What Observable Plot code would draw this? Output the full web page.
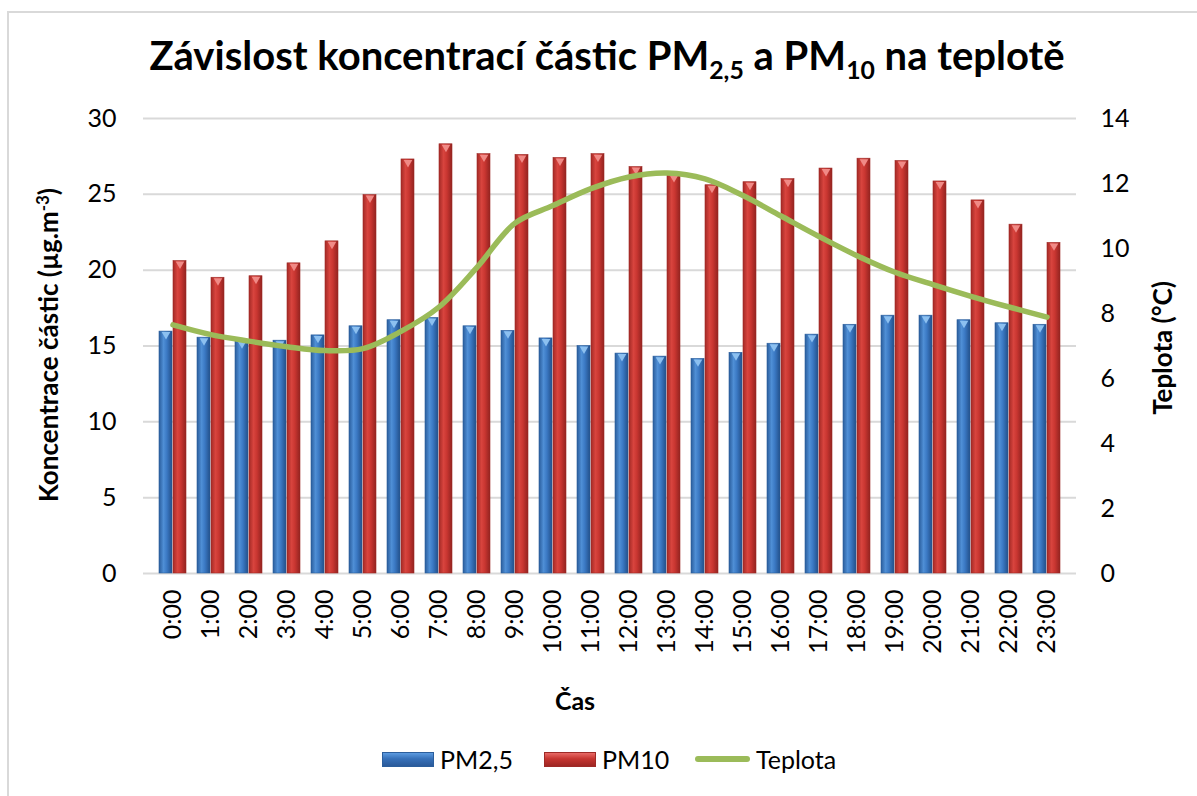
<!DOCTYPE html>
<html>
<head>
<meta charset="utf-8">
<script src="https://cdn.jsdelivr.net/npm/d3@7"></script>
<script src="https://cdn.jsdelivr.net/npm/@observablehq/plot@0.6"></script>
<style>
  html, body { margin: 0; padding: 0; background: #fff; }
  #wrap { position: relative; width: 1197px; height: 796px; overflow: hidden; font-family: Lato, "Open Sans", sans-serif; color: #000; }
  #frame { position: absolute; left: 7px; top: 11px; width: 1300px; height: 900px; border-left: 2px solid #d9d9d9; border-top: 2px solid #d9d9d9; }
  #chart { position: absolute; left: 0; top: 0; }
  .abs { position: absolute; white-space: nowrap; }
  #title { left: 0; width: 1214px; top: 31px; text-align: center; font-weight: 700; font-size: 40px; }
  #title sub { font-size: 0.62em; vertical-align: -0.35em; line-height: 0; }
  .ytitle { font-weight: 700; font-size: 26px; transform: translate(-50%, -50%) rotate(-90deg); }
  #xtitle { font-weight: 700; font-size: 25px; transform: translate(-50%, -50%); left: 575px; top: 700px; }
  .leg { top: 744px; font-size: 25px; display: flex; align-items: center; }
  .sw { display: inline-block; width: 50px; height: 13px; margin-right: 6px; }
</style>
</head>
<body>
<div id="wrap">
  <div id="frame"></div>
  <div id="chart"></div>
  <div id="title" class="abs">Závislost koncentrací částic PM<sub>2,5</sub> a PM<sub>10</sub> na teplotě</div>
  <div class="abs ytitle" style="left:48px; top:345px;">Koncentrace částic (µg.m<sup style="font-size:0.65em">-3</sup>)</div>
  <div class="abs ytitle" style="left:1162px; top:348px;">Teplota (°C)</div>
  <div id="xtitle" class="abs">Čas</div>
  <div class="abs leg" style="left:382px;"><span class="sw" style="background:linear-gradient(#5d9be0,#3670b8 45%,#2a5a9a);border:1px solid #2b5e9c;"></span>PM2,5</div>
  <div class="abs leg" style="left:544px;"><span class="sw" style="background:linear-gradient(#e86a66,#c53530 45%,#9e2623);border:1px solid #9e2a27;"></span>PM10</div>
  <div class="abs leg" style="left:695px;"><span class="sw" style="width:55px;height:6px;border-radius:3px;background:#9bbb59;"></span>Teplota</div>
</div>
<script>
const hours = ["0:00","1:00","2:00","3:00","4:00","5:00","6:00","7:00","8:00","9:00","10:00","11:00","12:00","13:00","14:00","15:00","16:00","17:00","18:00","19:00","20:00","21:00","22:00","23:00"];
const pm25 = [15.95,15.55,15.35,15.35,15.7,16.3,16.7,16.85,16.3,16.0,15.5,15.0,14.5,14.3,14.15,14.55,15.15,15.75,16.4,17.0,17.0,16.7,16.5,16.4];
const pm10 = [20.6,19.5,19.6,20.45,21.9,24.95,27.3,28.3,27.65,27.6,27.4,27.65,26.8,26.3,25.6,25.8,26.0,26.7,27.35,27.2,25.85,24.6,23.0,21.8];
const teplota = [7.65,7.35,7.15,6.98,6.86,6.92,7.45,8.2,9.42,10.78,11.32,11.84,12.2,12.32,12.14,11.63,11.0,10.37,9.78,9.27,8.89,8.53,8.2,7.89];
const leftTicks = [0,5,10,15,20,25,30];
const rightTicks = [0,2,4,6,8,10,12,14];
const leftMax = 30, rightMax = 14;
const k = leftMax / rightMax;

const rows = hours.map((h, i) => ({hour: h, pm25: pm25[i], pm10: pm10[i], temp: teplota[i]}));

const W = 1197, H = 796;
const font = "Lato, 'Open Sans', sans-serif";

const chart = Plot.plot({
  width: W, height: H,
  marginTop: 118, marginBottom: 223, marginLeft: 143, marginRight: 121,
  style: {fontFamily: font, fontSize: "24px", color: "#000", background: "transparent"},
  x: {type: "band", domain: hours, paddingInner: 0.28, paddingOuter: 0.14, label: null},
  y: {domain: [0, leftMax], label: null},
  marks: [
    Plot.gridY(leftTicks.slice(1), {stroke: "#d9d9d9", strokeOpacity: 1, strokeWidth: 2}),
    Plot.ruleY([0], {stroke: "#d9d9d9", strokeWidth: 2}),
    Plot.barY(rows, {x: "hour", y: "pm25", fill: "url(#gBlue)", stroke: "#2b5e9c", strokeWidth: 0.6, insetRight: 14}),
    Plot.barY(rows, {x: "hour", y: "pm10", fill: "url(#gRed)", stroke: "#9e2a27", strokeWidth: 0.6, insetLeft: 14}),
    Plot.dot(rows, {x: "hour", y: "pm25", symbol: "triangle", rotate: 180, r: 3.2, dx: -7, dy: 3, fill: "#8cc0f0", stroke: null}),
    Plot.dot(rows, {x: "hour", y: "pm10", symbol: "triangle", rotate: 180, r: 3.2, dx: 7, dy: 3, fill: "#f08a86", stroke: null}),
    Plot.line(rows, {x: "hour", y: d => d.temp * k, stroke: "#9bbb59", strokeWidth: 5.5, curve: "catmull-rom", strokeLinecap: "round", strokeLinejoin: "round"}),
    Plot.axisY(leftTicks, {anchor: "left", tickSize: 0, tickPadding: 27, fontSize: 25, label: null}),
    Plot.axisY(rightTicks.map(t => t * k), {anchor: "right", tickSize: 0, tickPadding: 24, fontSize: 25, label: null, tickFormat: v => String(Math.round(v / k)), textAnchor: "start"}),
    Plot.axisX({anchor: "bottom", tickSize: 0, tickPadding: 16, tickRotate: -90, fontSize: 25, label: null})
  ]
});

const defs = d3.select(chart).insert("defs", ":first-child");
function grad(id, stops) {
  const g = defs.append("linearGradient").attr("id", id).attr("x1", "0").attr("x2", "1").attr("y1", "0").attr("y2", "0");
  stops.forEach(([o, c]) => g.append("stop").attr("offset", o).attr("stop-color", c));
}
grad("gBlue", [["0", "#2a5d9c"], ["0.35", "#4f8fd6"], ["0.6", "#3b79c4"], ["1", "#23508a"]]);
grad("gRed", [["0", "#a42a26"], ["0.35", "#d8443e"], ["0.6", "#c93631"], ["1", "#932320"]]);

document.getElementById("chart").appendChild(chart);
</script>
</body>
</html>
